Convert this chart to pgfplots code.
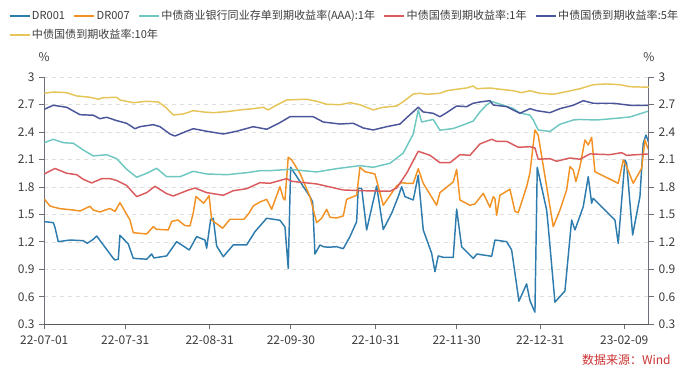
\documentclass[border=0pt]{standalone}
\usepackage{pgfplots}
\pgfplotsset{compat=1.18}
\usepackage{fontspec}
\setmainfont{Noto Sans CJK SC}
\definecolor{cDRa}{RGB}{46,124,174}
\definecolor{cDRb}{RGB}{242,146,36}
\definecolor{cTeal}{RGB}{110,199,193}
\definecolor{cRed}{RGB}{217,91,94}
\definecolor{cNavy}{RGB}{75,86,154}
\definecolor{cYel}{RGB}{229,196,88}
\definecolor{cAxis}{RGB}{110,112,121}
\definecolor{cTxt}{RGB}{60,60,60}
\definecolor{cSrc}{RGB}{204,51,51}
\pgfplotsset{
  base/.style={
    at={(33.2pt,41.8pt)}, anchor=south west,
    scale only axis, width=453.5pt, height=185.25pt,
    xmin=0, xmax=604.7, ymin=0.3, ymax=3,
    ytick={0.3,0.6,0.9,1.2,1.5,1.8,2.1,2.4,2.7,3},
    yticklabels={0.3,0.6,0.9,1.2,1.5,1.8,2.1,2.4,2.7,3},
    tick align=outside, major tick length=3.75pt,
    tick style={cAxis, line width=0.75pt},
    ticklabel style={font=\fontsize{9}{10}\selectfont, text=cTxt},
    /pgf/number format/assume math mode=true,
    legend image code/.code={\draw[#1] (0pt,0pt) -- (15pt,0pt);},
    legend style={draw=none, fill=none, inner xsep=0pt, inner ysep=0pt,
      font=\fontsize{8.3}{10}\selectfont, text=cTxt,
      nodes={inner xsep=1.2pt, inner ysep=2pt},
      /tikz/every even column/.append style={column sep=5.2pt}},
    legend columns=-1,
  },
  ser/.style={color=#1, line width=1.1pt, line join=round, no marks},
}
\begin{document}
\begin{tikzpicture}
\path[use as bounding box] (0pt,0pt) rectangle (522pt,285pt);
\begin{axis}[base,
  axis x line*=bottom, axis y line*=left,
  x axis line style={color=black!65, line width=1.1pt},
  y axis line style={color=cAxis, line width=0.75pt},
  xtick={0,81,165.4,246.7,331.4,412.4,496,580},
  xticklabels={22-07-01,22-07-31,22-08-31,22-09-30,22-10-31,22-11-30,22-12-31,23-02-09},
  xticklabel style={yshift=-1pt},
  ymajorgrids, grid style={dashed, color=black!13, line width=0.6pt},
  legend style={at={(-0.0589,1.2481)}, anchor=west},
]
% DR001
\addplot[ser=cDRa] table {
0 1.422
9 1.411
10.7 1.360
14 1.203
25.7 1.221
39 1.214
43 1.185
49 1.229
52.4 1.265
69 1.021
70.7 1.003
74 1.011
75.7 1.273
84 1.178
89 1.021
102.4 1.011
107.4 1.068
109.7 1.025
122.4 1.047
132.4 1.203
145 1.112
152.4 1.258
160.7 1.221
162.4 1.131
166.4 1.448
169 1.459
172.4 1.156
179 1.039
189 1.167
202.4 1.167
210.7 1.312
222.4 1.459
235.7 1.437
240.7 1.364
244 0.910
246.4 2.016
265.7 1.695
268.4 1.637
270.7 1.068
275.7 1.167
279 1.148
284 1.142
292.4 1.148
299 1.126
305.7 1.258
312.4 1.422
314 1.787
317.4 1.787
322.4 1.331
332.4 1.812
339 1.336
347.4 1.513
354 1.695
357.4 1.804
360.7 1.695
369 1.659
374 1.929
379 1.331
387.4 1.076
390.7 0.875
394 1.047
399 1.032
409 1.032
412.4 1.560
417.4 1.148
420.7 1.112
429 1.021
432.7 1.068
447.4 1.043
450.7 1.221
462.4 1.203
467.4 1.112
474.7 0.553
482.4 0.741
485.7 0.558
490.7 0.432
493 2.016
502.4 1.549
504 1.369
510.7 0.542
520.7 0.664
527.4 1.440
530.7 1.331
539 1.585
544 1.913
547.4 1.623
549 1.677
570.7 1.440
574 1.185
580.7 2.096
582.4 2.060
588.4 1.276
595.7 1.695
599 2.279
601.7 2.369
604.7 2.279
};
\addlegendentry{DR001}
% DR007
\addplot[ser=cDRb] table {
0 1.670
5.7 1.593
9 1.582
15.7 1.564
29 1.549
35.7 1.538
45.7 1.590
49 1.549
55.7 1.528
65.7 1.566
70.7 1.533
75.7 1.629
85.7 1.440
89 1.301
102.4 1.287
109 1.367
112.4 1.338
124 1.331
127.4 1.424
133.7 1.440
140.7 1.378
145.7 1.375
149 1.517
151.7 1.697
159.4 1.623
164.9 1.706
167.4 1.440
178.4 1.350
185.7 1.448
199.7 1.448
204.7 1.513
209 1.593
215.7 1.637
222.4 1.666
227.4 1.557
235.7 1.804
239 1.677
240.7 1.659
244 2.126
247.4 2.096
255.7 1.951
265.7 1.695
272.4 1.411
277.4 1.459
282.4 1.557
285.7 1.470
292.4 1.462
299 1.484
302.4 1.666
312.4 1.710
315.7 2.016
320.7 1.968
330.7 1.943
339 1.601
352.4 1.812
357.4 1.848
362.4 1.841
369 1.841
374 2.001
379 1.841
392.4 1.601
395.7 1.739
409 1.856
412.4 1.994
415.7 1.659
425.7 1.601
430.7 1.615
439 1.732
445.7 1.579
449 1.695
450.7 1.673
452.4 1.491
455.7 1.710
465.7 1.776
470.7 1.535
474 1.520
482.4 1.804
485.7 1.957
490.7 2.424
494 2.366
509 1.367
515.7 1.549
522.4 1.768
525.7 2.023
529 1.987
531.7 1.859
535.7 2.023
540.7 2.315
544 2.260
547.4 2.344
550.7 1.968
574 1.841
579 2.096
582.4 2.023
589 1.841
597.4 2.005
600.7 2.315
603 2.241
604.7 2.205
};
\addlegendentry{DR007}
% AAA CD 1Y
\addplot[ser=cTeal] table {
0 2.285
9 2.322
19 2.285
29 2.279
39 2.205
49 2.140
62.4 2.154
72.4 2.110
82.4 1.994
92.4 1.907
102.4 1.951
112.4 2.005
122.4 1.913
135.7 1.913
149 1.972
162.4 1.943
182.4 1.935
202.4 1.957
215.7 1.979
225.7 1.979
245.7 1.994
272.4 1.965
292.4 2.001
315.7 2.034
329 2.016
345.7 2.060
359 2.172
369 2.380
374 2.643
377.4 2.511
389 2.539
395.7 2.421
409 2.440
419 2.479
429 2.522
435.7 2.621
442.4 2.697
447.4 2.735
459 2.695
469 2.659
475.7 2.610
485.7 2.586
489 2.533
494 2.424
505.7 2.408
515.7 2.486
529 2.533
535.7 2.539
552.4 2.533
572.4 2.552
585.7 2.566
604.7 2.632
};
\addlegendentry{中债商业银行同业存单到期收益率(AAA):1年}
% CGB 1Y
\addplot[ser=cRed] table {
0 1.943
10.7 2.003
22.4 1.951
32.4 1.935
39 1.885
47.4 1.845
57.4 1.892
65.7 1.892
72.4 1.872
82.4 1.817
92.4 1.695
102.4 1.739
110.7 1.808
122.4 1.728
129 1.702
142.4 1.760
150.7 1.790
162.4 1.739
179 1.710
189 1.760
202.4 1.782
215.7 1.848
225.7 1.841
242.4 1.892
247.4 1.863
272.4 1.834
299 1.768
319 1.760
345.7 1.754
352.4 1.790
362.4 1.951
374 2.191
385.7 2.147
395.7 2.066
405.7 2.066
415.7 2.154
425.7 2.147
435.7 2.271
447.4 2.322
452.4 2.300
462.4 2.300
474 2.235
485.7 2.241
490.7 2.227
494 2.104
505.7 2.110
512.4 2.082
525.7 2.118
535.7 2.104
545.7 2.162
565.7 2.154
577.4 2.176
582.4 2.147
604.7 2.162
};
\addlegendentry{中债国债到期收益率:1年}
% CGB 5Y
\addplot[ser=cNavy] table {
0 2.650
9 2.694
22.4 2.672
35.7 2.591
49 2.585
55.7 2.547
62.4 2.563
72.4 2.526
82.4 2.497
90.7 2.438
95.7 2.460
109 2.482
115.7 2.460
125.7 2.380
130.7 2.358
142.4 2.410
149 2.438
162.4 2.410
179 2.380
192.4 2.410
209 2.460
222.4 2.432
235.7 2.504
245.7 2.569
269 2.569
279 2.511
295.7 2.489
309 2.497
319 2.446
329 2.424
342.4 2.460
355.7 2.489
365.7 2.591
374 2.672
379 2.621
389 2.606
395.7 2.569
402.4 2.613
412.4 2.686
422.4 2.679
429 2.716
435.7 2.730
445.7 2.744
449 2.697
462.4 2.679
475.7 2.606
485.7 2.657
492.4 2.635
505.7 2.613
515.7 2.657
529 2.694
539 2.744
549 2.716
569 2.716
585.7 2.694
604.7 2.694
};
\addlegendentry{中债国债到期收益率:5年}
\end{axis}
\begin{axis}[base,
  axis x line=none, axis y line*=right,
  y axis line style={color=cAxis, line width=0.75pt},
  legend style={at={(-0.0589,1.1711)}, anchor=west},
]
% CGB 10Y
\addplot[ser=cYel] table {
0 2.825
9 2.839
22.4 2.832
32.4 2.796
45.7 2.781
54 2.760
59 2.777
72.4 2.781
75.7 2.752
89 2.722
95.7 2.730
102.4 2.738
114 2.730
120.7 2.679
129 2.588
139 2.599
149 2.635
159 2.621
169 2.613
182.4 2.624
195.7 2.643
209 2.657
219 2.672
224 2.643
230.7 2.686
242.4 2.752
262.4 2.760
272.4 2.738
282.4 2.705
295.7 2.700
305.7 2.722
315.7 2.700
329 2.643
339 2.672
352.4 2.686
359 2.733
369 2.817
375.7 2.825
382.4 2.814
395.7 2.825
402.4 2.853
412.4 2.869
422.4 2.883
429 2.905
432.4 2.875
445.7 2.883
455.7 2.869
469 2.853
477.4 2.832
485.7 2.853
495.7 2.825
509 2.814
522.4 2.843
535.7 2.875
549 2.919
562.4 2.927
575.7 2.919
585.7 2.897
604.7 2.891
};
\addlegendentry{中债国债到期收益率:10年}
\end{axis}
\node[font=\fontsize{9}{10}\selectfont, text=cTxt] at (33.2pt,242pt) {\%};
\node[font=\fontsize{9}{10}\selectfont, text=cTxt] at (486.75pt,242pt) {\%};
\node[font=\fontsize{9}{10}\selectfont, text=cSrc, anchor=east] at (506.5pt,15pt) {数据来源：Wind};
\end{tikzpicture}
\end{document}
